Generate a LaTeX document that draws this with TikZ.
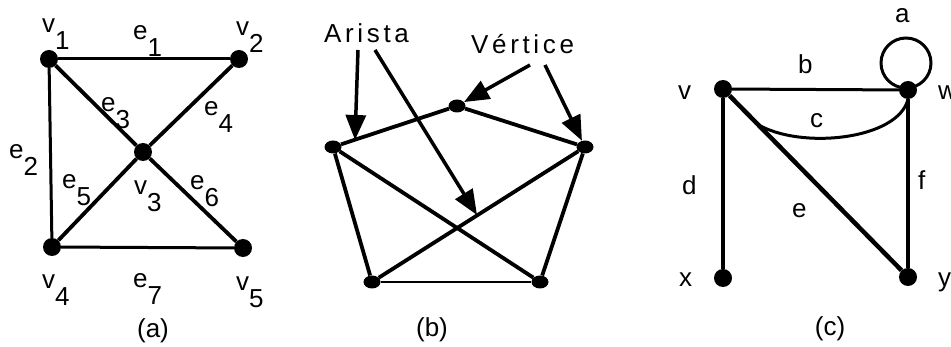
\documentclass[tikz,border=0pt]{standalone}
\usepackage{fontspec}
\setmainfont{Liberation Sans}
\newfontfamily\spacedfont[LetterSpace=14]{Liberation Sans}
\usetikzlibrary{arrows.meta,shapes.geometric}
\newcommand\lowr[1]{\raisebox{-0.62em}{#1}}
\begin{document}
\begin{tikzpicture}[x=1pt,y=-1pt,
  dot/.style={circle,fill=black,inner sep=0pt,minimum size=18pt},
  edot/.style={ellipse,fill=black,inner sep=0pt,minimum width=17pt,minimum height=13pt},
  lab/.style={anchor=base west,inner sep=0pt,font=\fontsize{26}{30}\selectfont},
  clab/.style={anchor=base,inner sep=0pt,font=\fontsize{26}{30}\selectfont},
  thick edge/.style={line width=3.8pt},
  thin edge/.style={line width=3pt},
  pointer/.style={line width=3.5pt,-{Triangle[length=25pt,width=20pt]}}
]
\useasboundingbox (0,0) rectangle (951,347);

% ---------- (a) ----------
\node[dot] (v1) at (49,59) {};
\node[dot] (v2) at (239,59) {};
\node[dot] (v3) at (143,152) {};
\node[dot] (v4) at (52,247) {};
\node[dot] (v5) at (243,248) {};
\draw[thin edge] (v1) -- (v2);
\draw[thin edge] (v1) -- (v4);
\draw[thick edge] (v1) -- (v3);
\draw[thick edge] (v2) -- (v3);
\draw[thick edge] (v4) -- (v3);
\draw[thick edge] (v5) -- (v3);
\draw[thin edge] (v4) -- (v5);
\node[lab] (lv1) at (42,33) {v\lowr{1}};
\node[lab] (le1) at (133,40) {e\lowr{1}};
\node[lab] (lv2) at (236,36) {v\lowr{2}};
\node[lab] (le3) at (101,112) {e\lowr{3}};
\node[lab] (le4) at (204,116) {e\lowr{4}};
\node[lab] (le2) at (9,159) {e\lowr{2}};
\node[lab] (le5) at (62,189) {e\lowr{5}};
\node[lab] (lv3) at (134,195) {v\lowr{3}};
\node[lab] (le6) at (190,190) {e\lowr{6}};
\node[lab] (lv4) at (42,289) {v\lowr{4}};
\node[lab] (le7) at (133,288) {e\lowr{7}};
\node[lab] (lv5) at (236,291) {v\lowr{5}};
\node[clab] (capa) at (153,338) {(a)};

% ---------- (b) ----------
\node[edot] (b1) at (457,106) {};
\node[edot] (b2) at (333,147) {};
\node[edot] (b3) at (585,147) {};
\node[edot] (b4) at (372,282) {};
\node[edot] (b5) at (540,282) {};
\draw[thick edge] (b2) -- (b1);
\draw[thick edge] (b1) -- (b3);
\draw[thick edge] (b2) -- (b4);
\draw[thick edge] (b2) -- (b5);
\draw[thick edge] (b3) -- (b4);
\draw[thick edge] (b3) -- (b5);
\draw[line width=2.2pt] (b4) -- (b5);
\node[anchor=base west,inner sep=0pt,font=\fontsize{26}{30}\spacedfont] (arista) at (324,43) {Arista};
\node[anchor=base west,inner sep=0pt,font=\fontsize{26}{30}\spacedfont] (vertice) at (471,54) {Vértice};
\coordinate (s1) at (358,50);
\coordinate (t1) at (355,140);
\coordinate (s2) at (375,50);
\coordinate (t2) at (477,215);
\coordinate (s3) at (530,65);
\coordinate (s4) at (545,65);
\draw[pointer] (s1) -- (t1);
\draw[pointer] (s2) -- (t2);
\draw[pointer] (s3) -- (b1);
\draw[pointer] (s4) -- (b3);
\node[clab] (capb) at (432,337) {(b)};

% ---------- (c) ----------
\node[dot] (cv) at (723,89) {};
\node[dot] (cw) at (908,90) {};
\node[dot] (cx) at (723,278) {};
\node[dot] (cy) at (908,277) {};
\draw[thin edge] (cv) -- (cw);
\draw[thick edge] (cv) -- (cx);
\draw[thick edge] (cw) -- (cy);
\draw[line width=4.5pt] (cv) -- (cy);
\draw[thin edge] (906,63) circle[radius=25];
\coordinate (cend) at (757,124);
\draw[thin edge] (cw.south) .. controls (898,140) and (800,150) .. (cend);
\node[lab] (la) at (895,23) {a};
\node[lab] (lb) at (798,74) {b};
\node[lab] (lv) at (678,100) {v};
\node[lab] (lw) at (938,100) {w};
\node[lab] (lc) at (810,128) {c};
\node[lab] (ld) at (682,195) {d};
\node[lab] (lf) at (918,190) {f};
\node[lab] (le) at (792,218) {e};
\node[lab] (lx) at (679,287) {x};
\node[lab] (ly) at (938,287) {y};
\node[clab] (capc) at (830,336) {(c)};
\end{tikzpicture}
\end{document}
